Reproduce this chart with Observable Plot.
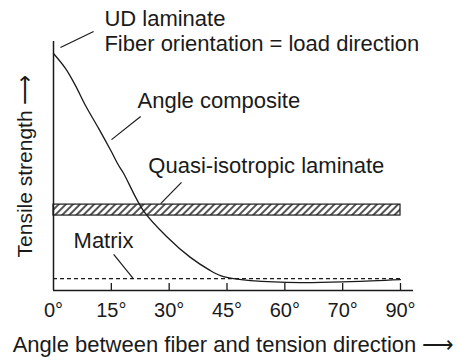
<!DOCTYPE html>
<html><head><meta charset="utf-8">
<script src="https://cdn.jsdelivr.net/npm/d3@7"></script>
<script src="https://cdn.jsdelivr.net/npm/@observablehq/plot@0.6"></script>
<style>
body{margin:0;background:#fff}
#chart svg{font-family:"Liberation Sans",Arial,Helvetica,sans-serif;display:block}
</style>
</head><body><div id="chart"></div>
<script>
// ---- data ----
const angleTicks = [0, 15, 30, 45, 60, 70, 90];
const curveAngle    = [0, 3.1, 5.7, 8.3, 11.7, 15, 16.9, 18.2, 23.3, 29.6, 35.5, 40.7, 43.3, 46.7, 51.1, 62.7, 72.8, 90];
const curveStrength = [95.2, 89.2, 82.3, 74.3, 65.1, 55.8, 50.2, 47.0, 32.1, 21.3, 13.3, 8.0, 6.0, 4.8, 4.0, 3.2, 3.6, 4.4];
const matrixStrength = 4.8;
const quasiLow = 30.1, quasiHigh = 34.5;
const labelText = ["UD laminate", "Fiber orientation = load direction", "Angle composite", "Quasi-isotropic laminate", "Matrix"];
const labelAngle = [13.2, 13.2, 21.8, 24.6, 5.2];
const labelStrength = [109.2, 99.2, 76.3, 50.2, 19.7];
const leaderAngle1 = [1.8, 15.05, 27.8, 20.7];
const leaderStrength1 = [97.6, 60.6, 34.9, 4.8];
const leaderAngle2 = [10.4, 22.6, 33.2, 15.6];
const leaderStrength2 = [104.0, 69.9, 43.4, 14.5];
const xTitle = "Angle between fiber and tension direction \u27F6";
const yTitle = "Tensile strength \u27F6";

// ---- build ----
// the drawing's angle axis is pictorial: the labelled angles are equally spaced
const toPos = d3.scaleLinear(angleTicks, angleTicks.map((d, i) => i));
const curve = curveAngle.map((a, i) => ({pos: toPos(a), strength: curveStrength[i]}));
const labels = labelText.map((t, i) => ({text: t, pos: toPos(labelAngle[i]), strength: labelStrength[i]}));
const leaders = leaderAngle1.map((a, i) => ({x1: toPos(a), y1: leaderStrength1[i], x2: toPos(leaderAngle2[i]), y2: leaderStrength2[i]}));
const band = [{x1: toPos(0), x2: toPos(90), y1: quasiLow, y2: quasiHigh}];
const tickPos = angleTicks.map(toPos);

const W = 458, H = 361, mL = 53, mR = 45, mT = 41, mB = 71;
const ink = "#1a1a1a";

const plot = Plot.plot({
  width: W, height: H,
  marginLeft: mL, marginRight: mR, marginTop: mT, marginBottom: mB,
  style: {fontFamily: '"Liberation Sans", Arial, Helvetica, sans-serif', color: ink, background: "#fff"},
  x: {type: "linear", domain: [0, angleTicks.length - 1], range: [53, 400], label: null},
  y: {domain: [0, 100], axis: null, label: null},
  marks: [
    Plot.rect(band, {x1: "x1", x2: "x2", y1: "y1", y2: "y2", fill: "url(#hatch)", stroke: ink, strokeWidth: 1.2}),
    Plot.ruleY([matrixStrength], {x1: toPos(0), x2: toPos(90), stroke: ink, strokeWidth: 1.2, strokeDasharray: "4,3"}),
    Plot.line(curve, {x: "pos", y: "strength", curve: "catmull-rom", stroke: ink, strokeWidth: 1.3}),
    Plot.ruleX([0], {stroke: ink, strokeWidth: 1.5}),
    Plot.ruleY([0], {stroke: ink, strokeWidth: 1.5}),
    Plot.ruleX(tickPos.slice(1), {stroke: ink, strokeWidth: 1.3, insetTop: (H - mT - mB) - 7}),
    Plot.axisX(tickPos, {tickSize: 0, tickPadding: 12, tickFormat: (d, i) => angleTicks[i] + "\u00B0", fontSize: 20, fill: ink, label: null}),
    Plot.link(leaders, {x1: "x1", y1: "y1", x2: "x2", y2: "y2", stroke: ink, strokeWidth: 1.2}),
    Plot.text(labels, {x: "pos", y: "strength", text: "text", textAnchor: "start", lineAnchor: "middle", fontSize: 22, fill: ink}),
    Plot.text([xTitle], {frameAnchor: "bottom", dy: 54, textAnchor: "middle", lineAnchor: "middle", fontSize: 22, fill: ink}),
    Plot.text([yTitle], {frameAnchor: "left", dx: -28, rotate: -90, textAnchor: "middle", lineAnchor: "middle", fontSize: 21, fill: ink})
  ]
});

const svg = d3.select(plot);
const defs = svg.insert("defs", ":first-child");
const pat = defs.append("pattern").attr("id", "hatch").attr("patternUnits", "userSpaceOnUse")
  .attr("width", 5).attr("height", 5).attr("patternTransform", "rotate(45)");
pat.append("rect").attr("width", 5).attr("height", 5).attr("fill", "#fff");
pat.append("line").attr("x1", 1).attr("y1", 0).attr("x2", 1).attr("y2", 5).attr("stroke", ink).attr("stroke-width", 1.5);
document.getElementById("chart").appendChild(plot);
</script>
</body></html>
